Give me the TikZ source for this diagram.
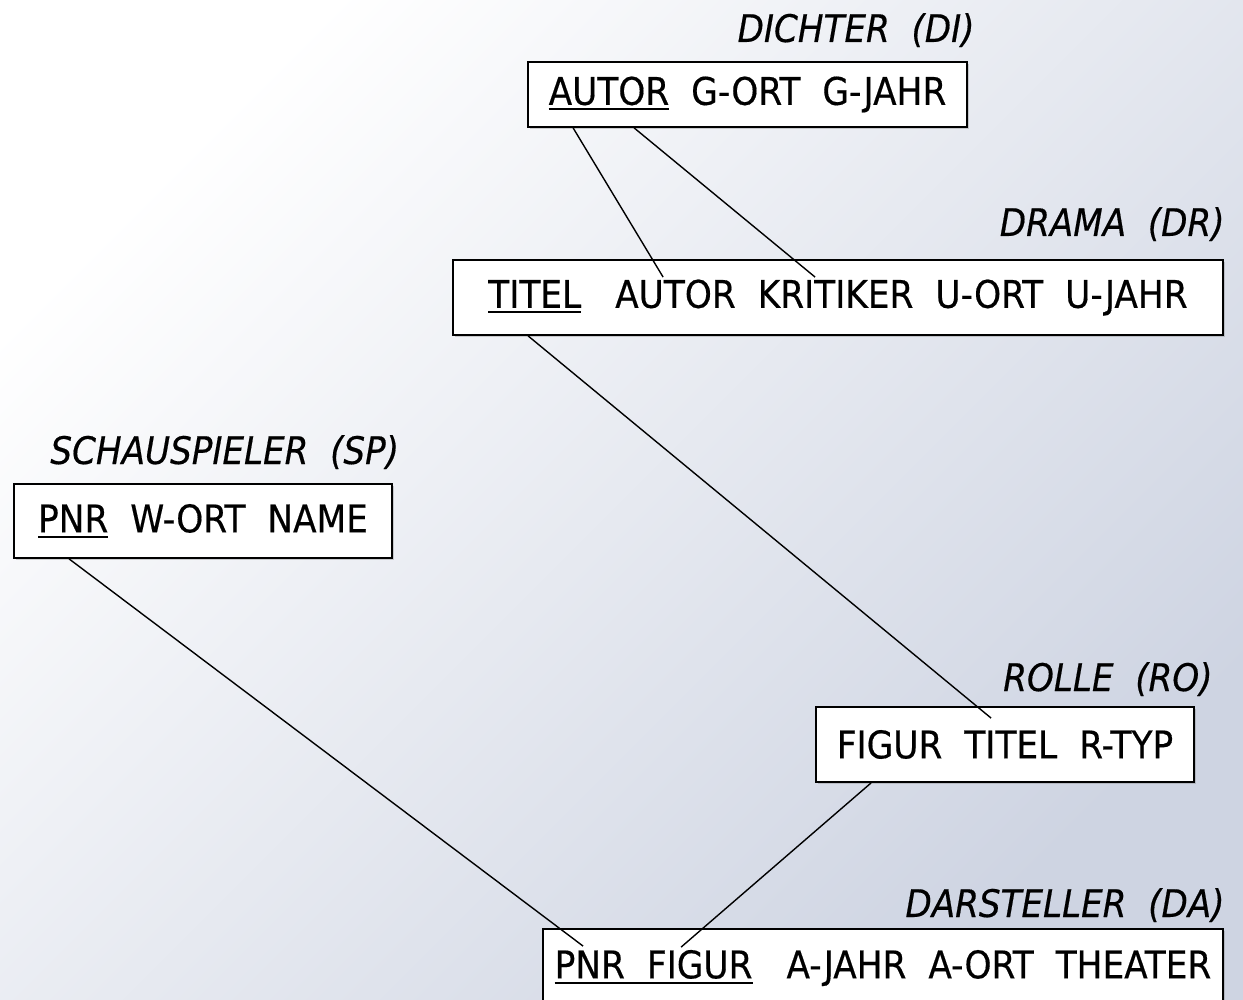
\documentclass[tikz,border=0pt]{standalone}
\usepackage{fontspec}
\usetikzlibrary{calc,shadows}
\newfontfamily\relfont[FakeBold=0.4]{DejaVu Sans Condensed}
\newcommand\keyattr[1]{\sbox0{#1}\rlap{\rule[-2.8pt]{\wd0}{1.1pt}}#1}
\newcommand\gap{\hspace{11pt}}
\newcommand\wgap{\hspace{17pt}}
\definecolor{bgend}{RGB}{206,212,226}
\begin{document}
\begin{tikzpicture}[
        x=0.5pt, y=-0.5pt,
        relation/.style={draw, fill=white, line width=0.9pt, inner sep=0pt,
            font=\relfont\fontsize{19.1}{23}\selectfont,
            drop shadow={shadow xshift=1pt, shadow yshift=-1pt, opacity=0.35}},
        relname/.style={anchor=base east, inner sep=0pt,
            font=\relfont\itshape\fontsize{19}{23}\selectfont},
        link/.style={draw, line width=0.7pt}
        ]
    \shade[top color=white, bottom color=bgend, shading angle=45]
        (0,0) rectangle (1243,1000);
    \useasboundingbox (0,0) rectangle (1243,1000);

    % relations
    \node[relation, minimum width=219.5pt, minimum height=32.5pt] (di) at (747.5,94.5)
        {\keyattr{AUTOR}\gap G-ORT\gap G-JAHR};
    \node[relation, minimum width=385pt, minimum height=37.5pt] (dr) at (838,297.5)
        {\keyattr{TITEL}\wgap AUTOR\gap KRITIKER\gap U-ORT\gap U-JAHR};
    \node[relation, minimum width=189pt, minimum height=37pt] (sp) at (203,521)
        {\keyattr{PNR}\gap W-ORT\gap NAME};
    \node[relation, minimum width=189pt, minimum height=37.5pt] (ro) at (1005,744.5)
        {FIGUR\gap TITEL\gap R-TYP};
    \node[relation, minimum width=340pt, minimum height=39pt] (da) at (883,968)
        {\keyattr{PNR\gap FIGUR}\wgap A-JAHR\gap A-ORT\gap THEATER};

    % names
    \node[relname] (di-name) at (975,42) {DICHTER\ \ (DI)};
    \node[relname] (dr-name) at (1225,236) {DRAMA\ \ (DR)};
    \node[relname, anchor=base west] (sp-name) at (50,464) {SCHAUSPIELER\ \ (SP)};
    \node[relname] (ro-name) at (1213,691) {ROLLE\ \ (RO)};
    \node[relname] (da-name) at (1225,917) {DARSTELLER\ \ (DA)};

    % link ends
    \coordinate (di-autor) at ($(di.south west)+(46,0)$);
    \coordinate (di-autor2) at ($(di.south west)+(107,0)$);
    \coordinate (dr-autor) at ($(dr.north west)+(211,18)$);
    \coordinate (dr-kritiker) at ($(dr.north west)+(363,18)$);
    \coordinate (dr-titel) at ($(dr.south west)+(76,0)$);
    \coordinate (ro-titel) at ($(ro.north west)+(176,12)$);
    \coordinate (ro-figur) at ($(ro.south west)+(56,0)$);
    \coordinate (sp-pnr) at ($(sp.south west)+(56,0)$);
    \coordinate (da-pnr) at ($(da.north west)+(41,18)$);
    \coordinate (da-figur) at ($(da.north west)+(139,19)$);

    \draw[link] (di-autor) -- (dr-autor);
    \draw[link] (di-autor2) -- (dr-kritiker);
    \draw[link] (dr-titel) -- (ro-titel);
    \draw[link] (sp-pnr) -- (da-pnr);
    \draw[link] (ro-figur) -- (da-figur);
\end{tikzpicture}
\end{document}
